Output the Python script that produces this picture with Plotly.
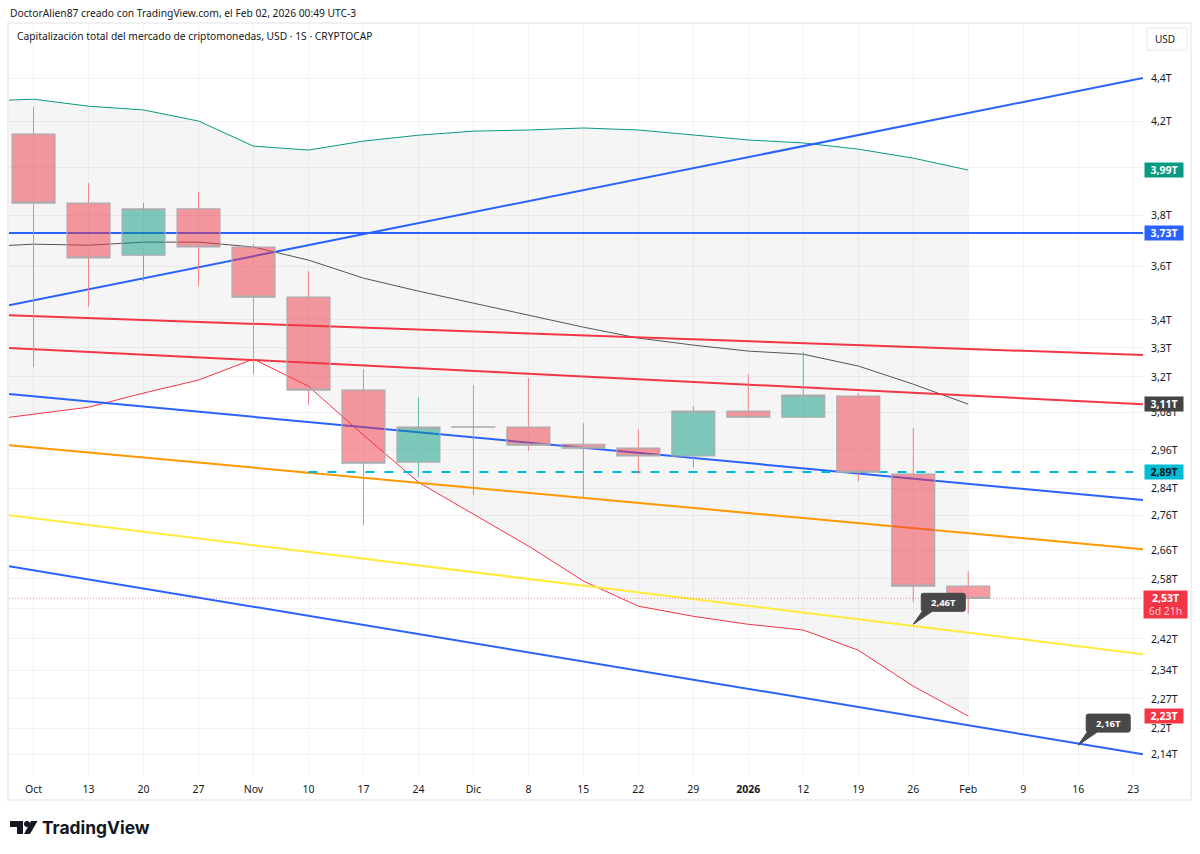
import math
import plotly.graph_objects as go

# weekly candles, values in trillions
weeks = ['2025-10-06', '2025-10-13', '2025-10-20', '2025-10-27', '2025-11-03', '2025-11-10',
         '2025-11-17', '2025-11-24', '2025-12-01', '2025-12-08', '2025-12-15', '2025-12-22',
         '2025-12-29', '2026-01-05', '2026-01-12', '2026-01-19', '2026-01-26', '2026-02-02']
opens = [4.145, 3.851, 3.643, 3.827, 3.675, 3.484, 3.155, 2.922, 3.034, 3.033, 2.978, 2.966,
         2.941, 3.085, 3.065, 3.135, 2.885, 2.560]
closes = [3.851, 3.632, 3.827, 3.675, 3.484, 3.155, 2.919, 3.033, 3.033, 2.975, 2.966, 2.941,
          3.085, 3.065, 3.138, 2.891, 2.560, 2.527]
highs = [4.266, 3.934, 3.851, 3.897, 3.686, 3.582, 3.226, 3.131, 3.172, 3.196, 3.046, 3.026,
         3.101, 3.209, 3.285, 3.145, 3.030, 2.601]
lows = [3.233, 3.447, 3.544, 3.525, 3.209, 3.105, 2.732, 2.875, 2.821, 2.956, 2.815, 2.885,
        2.906, 3.065, 3.065, 2.863, 2.517, 2.485]

# bollinger bands, one extra week on the left runs off the chart
band_weeks = ['2025-09-29'] + weeks
band_upper = [4.293, 4.302, 4.270, 4.253, 4.203, 4.092, 4.075, 4.114, 4.140, 4.158, 4.163,
              4.172, 4.163, 4.140, 4.119, 4.106, 4.079, 4.040, 3.989]
band_middle = [3.675, 3.686, 3.682, 3.694, 3.694, 3.675, 3.624, 3.555, 3.506, 3.461, 3.417,
               3.374, 3.335, 3.310, 3.289, 3.278, 3.237, 3.175, 3.108]
band_lower = [3.052, 3.075, 3.098, 3.145, 3.189, 3.261, 3.168, 3.007, 2.860, 2.764, 2.672,
              2.574, 2.506, 2.479, 2.458, 2.443, 2.391, 2.301, 2.229]

# trend lines: value at the left and at the right edge of the chart
x_start = '2025-10-02 21:00'
x_end = '2026-02-24 06:00'
trend_lines = [
    ('#2962FF', 3.454, 4.400),
    ('#2962FF', 3.730, 3.730),
    ('#F23645', 3.417, 3.275),
    ('#F23645', 3.300, 3.108),
    ('#2962FF', 3.142, 2.806),
    ('#FF9800', 2.975, 2.663),
    ('#FFEB3B', 2.761, 2.381),
    ('#2962FF', 2.615, 2.140),
]
last_price = 2.527
dashed_level = 2.891
dashed_dates = ['2025-11-10', '2026-02-23']

y_ticks = [4.4, 4.2, 4.0, 3.8, 3.6, 3.4, 3.3, 3.2, 3.08, 2.96, 2.84, 2.76, 2.66, 2.58,
           2.5, 2.42, 2.34, 2.27, 2.2, 2.14]
y_labels = ['4,4T', '4,2T', '4,0T', '3,8T', '3,6T', '3,4T', '3,3T', '3,2T', '3,08T', '2,96T',
            '2,84T', '2,76T', '2,66T', '2,58T', '2,5T', '2,42T', '2,34T', '2,27T', '2,2T', '2,14T']
x_ticks = weeks + ['2026-02-09', '2026-02-16', '2026-02-23']
x_labels = ['Oct', '13', '20', '27', 'Nov', '10', '17', '24', 'Dic', '8', '15', '22', '29',
            '<b>2026</b>', '12', '19', '26', 'Feb', '9', '16', '23']

# coloured price labels on the axis
price_tags = [
    ('3,99T', 3.989, '#089981', 'white'),
    ('3,73T', 3.730, '#2962FF', 'white'),
    ('3,11T', 3.108, '#434343', 'white'),
    ('2,89T', 2.891, '#00BCD4', '#131722'),
    ('2,23T', 2.229, '#F23645', 'white'),
]
callouts = [('2026-01-26', 2.458, '2,46T'), ('2026-02-16', 2.161, '2,16T')]

FONT = 'Noto Sans'
TEXT = '#131722'
GRID = '#F3F3F4'
W, H = 1200, 854
L, R, T, B = 9, 57, 23, 78


def px_x(p):
    return (p - L) / (W - L - R)


def px_y(p):
    return (H - B - p) / (H - T - B)


fig = go.Figure()

# band fill and lines go on the main subplot, candles on the overlay above them
fig.add_trace(go.Scatter(x=band_weeks, y=band_upper, mode='lines', line=dict(color='#089981', width=1)))
fig.add_trace(go.Scatter(x=band_weeks, y=band_lower, mode='lines', line=dict(color='#F23645', width=1),
                         fill='tonexty', fillcolor='rgba(0,0,0,0.04)'))
fig.add_trace(go.Scatter(x=band_weeks, y=band_middle, mode='lines', line=dict(color='#555555', width=1)))

for color, left, right in trend_lines:
    fig.add_trace(go.Scatter(x=[x_start, x_end], y=[left, right], mode='lines',
                             line=dict(color=color, width=2)))

fig.add_trace(go.Scatter(x=dashed_dates, y=[dashed_level, dashed_level], mode='lines',
                         line=dict(color='#00BCD4', width=2, dash='9px 10px')))
fig.add_trace(go.Scatter(x=[x_start, x_end], y=[last_price, last_price], mode='lines',
                         line=dict(color='rgba(242,54,69,0.55)', width=1, dash='1px 2px')))

# bodies with grey border, no wick
fig.add_trace(go.Candlestick(
    x=weeks, open=opens, close=closes,
    high=[max(o, c) for o, c in zip(opens, closes)],
    low=[min(o, c) for o, c in zip(opens, closes)],
    xaxis='x2', yaxis='y2',
    increasing=dict(line=dict(color='#ABACAE', width=1.2), fillcolor='rgba(8,153,129,0.5)'),
    decreasing=dict(line=dict(color='#ABACAE', width=1.2), fillcolor='rgba(242,54,69,0.5)'),
))

# wicks: high down to the body and body down to low, split by candle colour
for up, color in [(False, '#F2808A'), (True, '#5BB8A6')]:
    wick_x, wick_y = [], []
    for d, o, c, h, l in zip(weeks, opens, closes, highs, lows):
        if (c > o) == up:
            wick_x += [d, d, None, d, d, None]
            wick_y += [h, max(o, c), None, min(o, c), l, None]
    fig.add_trace(go.Scatter(x=wick_x, y=wick_y, mode='lines', xaxis='x2', yaxis='y2',
                             line=dict(color=color, width=1)))

annotations = [
    dict(text='DoctorAlien87 creado con TradingView.com, el Feb 02, 2026 00:49 UTC-3',
         xref='paper', yref='paper', x=px_x(7.5), y=px_y(13), xanchor='left', yanchor='middle',
         showarrow=False, font=dict(size=10.25, color=TEXT, family=FONT)),
    dict(text='Capitalización total del mercado de criptomonedas, USD · 1S · CRYPTOCAP',
         xref='paper', yref='paper', x=px_x(14.5), y=px_y(36), xanchor='left', yanchor='middle',
         showarrow=False, font=dict(size=10.25, color=TEXT, family=FONT)),
    dict(text='USD', xref='paper', yref='paper', x=px_x(1164.5), y=px_y(39), xanchor='center',
         yanchor='middle', showarrow=False, font=dict(size=10, color=TEXT, family=FONT)),
    dict(text='<b>TradingView</b>', xref='paper', yref='paper', x=px_x(40), y=px_y(827),
         xanchor='left', yanchor='middle', showarrow=False,
         font=dict(size=17.4, color='#131722', family='Inter')),
]

for label, value, bg, fg in price_tags:
    annotations.append(dict(
        text='<b>' + label + '</b>', xref='paper', yref='y', x=1, y=math.log10(value), xshift=21,
        xanchor='center', yanchor='middle', showarrow=False, width=38, height=14, bgcolor=bg, borderpad=0,
        font=dict(size=10.5, color=fg, family=FONT)))

annotations.append(dict(
    text='<b>2,53T</b><br><span style="color:#FBC4C8">6d 21h</span>', xref='paper', yref='y',
    x=1, y=math.log10(last_price), xshift=22.5, yshift=-6.5, xanchor='center', yanchor='middle',
    showarrow=False, width=41, height=25, bgcolor='#F23645', borderpad=1,
    font=dict(size=10.5, color='white', family=FONT)))

shapes = [
    # outer frame
    dict(type='rect', xref='paper', yref='paper', x0=px_x(8), x1=px_x(1191), y0=px_y(23), y1=px_y(800),
         line=dict(color='#F0F0F2', width=2), layer='below'),
    # USD button
    dict(type='rect', xref='paper', yref='paper', x0=px_x(1147), x1=px_x(1187), y0=px_y(28), y1=px_y(50),
         line=dict(color='#E6E7EA', width=1), fillcolor='white'),
    # logo
    dict(type='path', xref='paper', yref='paper', fillcolor='#131722', line=dict(width=0),
         path='M {} {} L {} {} L {} {} L {} {} L {} {} L {} {} Z'.format(
             px_x(10), px_y(821), px_x(23), px_y(821), px_x(23), px_y(834),
             px_x(17), px_y(834), px_x(17), px_y(827), px_x(10), px_y(827))),
    dict(type='circle', xref='paper', yref='paper', fillcolor='#131722', line=dict(width=0),
         x0=px_x(24), x1=px_x(30), y0=px_y(827), y1=px_y(821)),
    dict(type='path', xref='paper', yref='paper', fillcolor='#131722', line=dict(width=0),
         path='M {} {} L {} {} L {} {} L {} {} Z'.format(
             px_x(31), px_y(821), px_x(37.5), px_y(821), px_x(30), px_y(834), px_x(24), px_y(834))),
]

# callout bubbles: rounded box with a wedge down to the anchor point
BUBBLE = ('M 0 0 L 9 13 L 10 13 Q 8 13 8 15 L 8 29 Q 8 31 10 31 L 50 31 Q 52 31 52 29 '
          'L 52 15 Q 52 13 50 13 L 19 13 Z')
for date, value, label in callouts:
    shapes.append(dict(type='path', xref='x', yref='y', xsizemode='pixel', ysizemode='pixel',
                       xanchor=date, yanchor=value, path=BUBBLE, fillcolor='#484848',
                       line=dict(color='#484848', width=1)))
    annotations.append(dict(text='<b>' + label + '</b>', x=date, y=math.log10(value), xref='x', yref='y',
                            xshift=30, yshift=22, xanchor='center', yanchor='middle', showarrow=False,
                            font=dict(size=9.5, color='white', family=FONT)))

y_range = [math.log10(2.091), math.log10(4.666)]
fig.update_layout(
    width=W, height=H,
    autosize=False,
    margin=dict(l=L, r=R, t=T, b=B),
    paper_bgcolor='white',
    plot_bgcolor='white',
    showlegend=False,
    hovermode=False,
    boxgap=0.22,
    boxgroupgap=0,
    annotations=annotations,
    shapes=shapes,
    font=dict(family=FONT, color=TEXT),
    xaxis=dict(type='date', range=[x_start, x_end], tickmode='array', tickvals=x_ticks, ticktext=x_labels,
               showgrid=True, gridcolor=GRID, gridwidth=1, zeroline=False, showline=False, ticks='',
               tickangle=0, ticklabelstandoff=5, tickfont=dict(size=10.5, color=TEXT, family=FONT),
               rangeslider=dict(visible=False)),
    yaxis=dict(type='log', range=y_range, side='right', tickmode='array', tickvals=y_ticks, ticktext=y_labels,
               showgrid=True, gridcolor=GRID, gridwidth=1, zeroline=False, showline=False, ticks='',
               ticklabelstandoff=7, tickfont=dict(size=10.5, color=TEXT, family=FONT)),
    xaxis2=dict(type='date', range=[x_start, x_end], overlaying='x', matches='x', visible=False,
                rangeslider=dict(visible=False)),
    yaxis2=dict(type='log', range=y_range, overlaying='y', matches='y', visible=False, side='right'),
)

# drop the browser's default page margin so the figure sits at 0,0
fig.write_html("out.html", config={'displayModeBar': False},
               post_script="document.body.style.margin='0';")
